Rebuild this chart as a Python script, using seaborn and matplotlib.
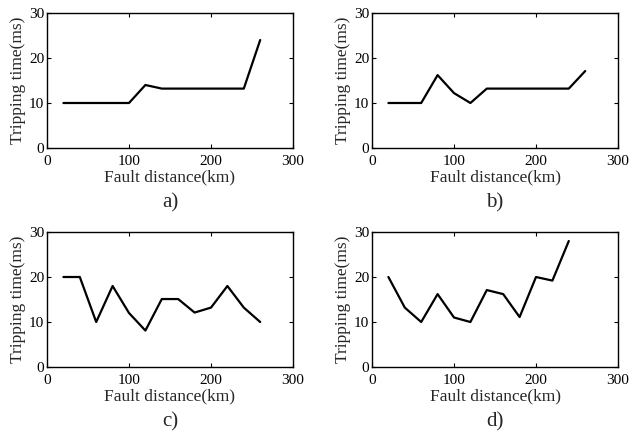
import pandas as pd
import matplotlib
matplotlib.use("Agg")
import matplotlib.pyplot as plt
import seaborn as sns

# Datos
distancia = [20, 40, 60, 80, 100, 120, 140, 160, 180, 200, 220, 240, 260]
tiempo_a = [10, 10, 10, 10, 10, 14, 13.2, 13.2, 13.2, 13.2, 13.2, 13.2, 24]
tiempo_b = [10, 10, 10, 16.2, 12.2, 10, 13.2, 13.2, 13.2, 13.2, 13.2, 13.2, 17.1]
tiempo_c = [20, 20, 10, 18, 12, 8.1, 15.1, 15.1, 12.1, 13.2, 18, 13.2, 10]
distancia_d = [20, 40, 60, 80, 100, 120, 140, 160, 180, 200, 220, 240]
tiempo_d = [20, 13.2, 10, 16.2, 11, 10, 17.1, 16.2, 11.1, 20, 19.2, 28]
etiquetas = ["a)", "b)", "c)", "d)"]

sns.set_style("ticks")
plt.rcParams['font.family'] = ['Liberation Serif', 'DejaVu Serif']
plt.rcParams['xtick.direction'] = 'in'
plt.rcParams['ytick.direction'] = 'in'
plt.rcParams['xtick.top'] = True
plt.rcParams['ytick.right'] = True

fig = plt.figure(figsize=(6.3, 4.36), dpi=100)

# posiciones de los paneles (fraccion de figura)
posiciones = [
    [47 / 630, 1 - 148 / 436, 246 / 630, 135 / 436],
    [372 / 630, 1 - 148 / 436, 246 / 630, 135 / 436],
    [47 / 630, 1 - 367 / 436, 246 / 630, 135 / 436],
    [372 / 630, 1 - 367 / 436, 246 / 630, 135 / 436],
]
series = [
    (distancia, tiempo_a),
    (distancia, tiempo_b),
    (distancia, tiempo_c),
    (distancia_d, tiempo_d),
]

for pos, (xs, ys), lab in zip(posiciones, series, etiquetas):
    ax = fig.add_axes(pos)
    df = pd.DataFrame({"x": xs, "y": ys})
    sns.lineplot(data=df, x="x", y="y", color="black", linewidth=1.6, ax=ax)
    ax.set_xlim(0, 300)
    ax.set_ylim(0, 30)
    ax.set_xticks([0, 100, 200, 300])
    ax.set_yticks([0, 10, 20, 30])
    ax.tick_params(axis="x", labelsize=11, length=3, width=0.8, pad=5, colors="black")
    ax.tick_params(axis="y", labelsize=11, length=3, width=0.8, pad=2, colors="black")
    for s in ax.spines.values():
        s.set_linewidth(1.0)
        s.set_color("black")
    ax.set_xlabel("Fault distance(km)", fontsize=12.5, labelpad=1)
    ax.set_ylabel("Tripping time(ms)", fontsize=12.5, labelpad=2)
    ax.text(0.5, -0.41, lab, transform=ax.transAxes, ha="center", va="center", fontsize=15)

fig.savefig("out.png", dpi=100)
